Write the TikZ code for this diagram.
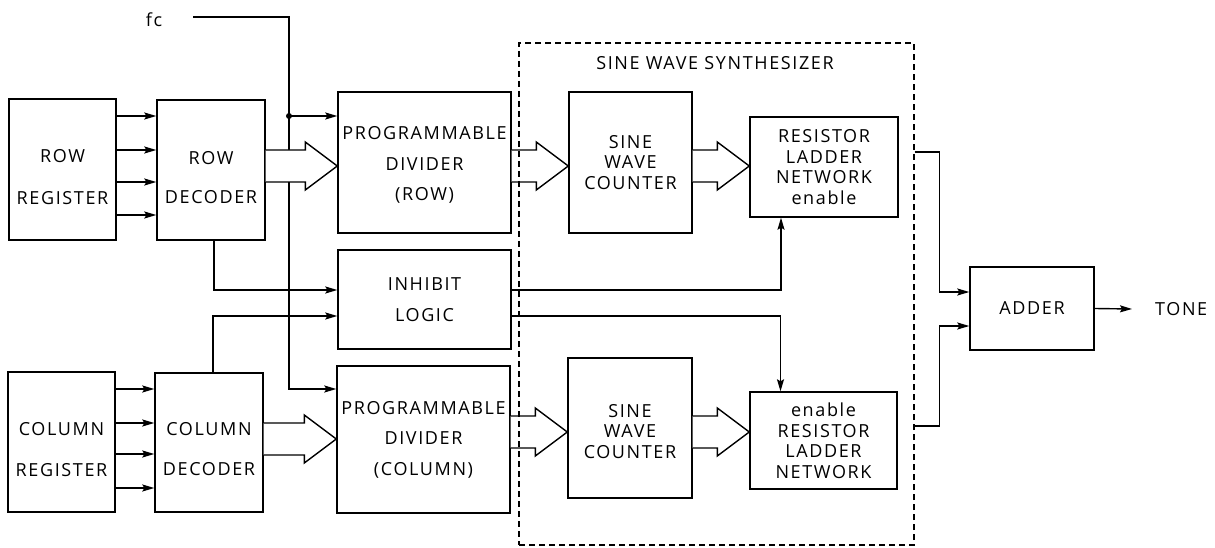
\documentclass[tikz,border=0pt]{standalone}
\usepackage{fontspec}
\setmainfont{Open Sans}[LetterSpace=9]
\usetikzlibrary{positioning,calc,arrows.meta}

\tikzset{
  blk/.style={draw, line width=1.4pt, align=center, inner sep=0pt},
  wire/.style={line width=1.4pt},
  sig/.style={line width=1.4pt, -{Stealth[length=12pt,width=7pt,inset=2pt]}},
}
% wide bus arrow: from node, to node, mid y
\newcommand{\busarrow}[3]{%
  \draw[wire, fill=white, line join=miter] (#1.east |- 0,#3-16) -- ($(#2.west |- 0,#3-16)+(-32,0)$) -- ++(0,-8)
    -- (#2.west |- 0,#3) -- ($(#2.west |- 0,#3+24)+(-32,0)$) -- ++(0,-8) -- (#1.east |- 0,#3+16);
}

\begin{document}
\begin{tikzpicture}[x=1pt, y=-1pt, font=\fontsize{18}{20.5}\selectfont]
  \useasboundingbox (0,0) rectangle (1215,548);

  % registers and decoders
  \node[blk, minimum width=107pt, minimum height=141pt] (rowreg) at (62.5,169.5) {\rule{0pt}{28pt}ROW\\[21pt]REGISTER};
  \node[blk, minimum width=108pt, minimum height=140pt] (rowdec) at (211,170) {\rule{0pt}{28pt}ROW\\[18pt]DECODER};
  \node[blk, minimum width=107pt, minimum height=140pt] (colreg) at (61.5,442) {\rule{0pt}{28pt}COLUMN\\[20pt]REGISTER};
  \node[blk, minimum width=108pt, minimum height=139pt] (coldec) at (209,442.5) {\rule{0pt}{26pt}COLUMN\\[20pt]DECODER};

  % dividers and inhibit
  \node[blk, minimum width=173pt, minimum height=141pt] (pdrow) at (424.5,162.5) {\rule{0pt}{18pt}PROGRAMMABLE\\[10pt]DIVIDER\\[10pt](ROW)};
  \node[blk, minimum width=173pt, minimum height=99pt] (inhibit) at (424.5,299.5) {INHIBIT\\[11pt]LOGIC};
  \node[blk, minimum width=173pt, minimum height=147pt] (pdcol) at (423.5,439.5) {PROGRAMMABLE\\[10pt]DIVIDER\\[10pt](COLUMN)};

  % synthesizer blocks
  \node[blk, minimum width=123pt, minimum height=141pt] (swcrow) at (630.5,162.5) {SINE\\WAVE\\COUNTER};
  \node[blk, minimum width=124pt, minimum height=140pt] (swccol) at (630,428) {\rule{0pt}{20pt}SINE\\WAVE\\COUNTER};
  \node[blk, minimum width=148pt, minimum height=100pt] (rlnrow) at (824,167) {RESISTOR\\LADDER\\NETWORK\\enable};
  \node[blk, minimum width=147pt, minimum height=97pt] (rlncol) at (823.5,440.5) {enable\\RESISTOR\\LADDER\\NETWORK};

  \node[blk, minimum width=124pt, minimum height=83pt] (adder) at (1032,308.5) {ADDER};
  \node[inner sep=0pt, anchor=west] (tone) at (1155,309) {TONE};

  % clock input
  \node[inner sep=0pt] (fc) at (154,20) {fc};
  \coordinate (fcbus) at (289,116);
  \draw[wire] ([xshift=31pt,yshift=3pt]fc.east) -| (fcbus);
  \fill (fcbus) circle (3);
  \draw[sig] (fcbus) -- (pdrow.west |- fcbus);
  \draw[sig] (fcbus) |- (pdcol.west |- 0,389);

  % register outputs
  \foreach \y in {116,150,182,215}
    \draw[sig] (rowreg.east |- 0,\y) -- (rowdec.west |- 0,\y);
  \foreach \y in {389,423,454,488}
    \draw[sig] (colreg.east |- 0,\y) -- (coldec.west |- 0,\y);

  % inhibit lines
  \draw[sig] ([xshift=3pt]rowdec.south) |- (inhibit.west |- 0,290);
  \draw[sig] ([xshift=4pt]coldec.north) |- (inhibit.west |- 0,316);
  \draw[sig] (inhibit.east |- 0,290) -| ([xshift=-43pt]rlnrow.south);
  \draw[sig] (inhibit.east |- 0,316) -| ([xshift=-43pt]rlncol.north);

  % buses
  \busarrow{rowdec}{pdrow}{166}
  \busarrow{pdrow}{swcrow}{166}
  \busarrow{swcrow}{rlnrow}{166}
  \busarrow{coldec}{pdcol}{439}
  \busarrow{pdcol}{swccol}{432}
  \busarrow{swccol}{rlncol}{432}

  % synthesizer outline
  \node[draw, line width=1.3pt, dash pattern=on 6pt off 4pt, minimum width=395pt, minimum height=502pt] (synth) at (716.5,294) {};
  \node (synthlbl) at (715,63) {SINE WAVE SYNTHESIZER};

  % to adder
  \draw[sig] (synth.east |- 0,152) -- ++(25,0) |- (adder.west |- 0,292);
  \draw[sig] (synth.east |- 0,426) -- ++(25,0) |- (adder.west |- 0,326);
  \draw[sig] (adder.east) -- ([xshift=-23pt]tone.west);
\end{tikzpicture}
\end{document}
